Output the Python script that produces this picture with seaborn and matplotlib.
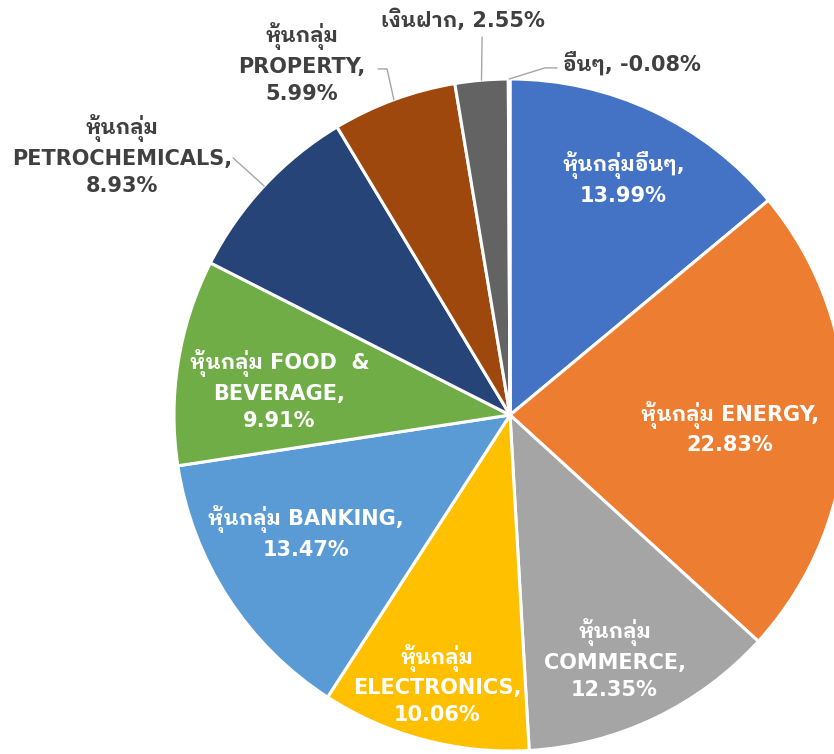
import numpy as np
import matplotlib
matplotlib.use("Agg")
import matplotlib.pyplot as plt
import seaborn as sns

# Portfolio allocation by asset group (percent of NAV)
categories = [
    "หุ้นกลุ่มอื่นๆ",
    "หุ้นกลุ่ม ENERGY",
    "หุ้นกลุ่ม\nCOMMERCE",
    "หุ้นกลุ่ม\nELECTRONICS",
    "หุ้นกลุ่ม BANKING",
    "หุ้นกลุ่ม FOOD  &\nBEVERAGE",
    "หุ้นกลุ่ม\nPETROCHEMICALS",
    "หุ้นกลุ่ม\nPROPERTY",
    "เงินฝาก",
    "อื่นๆ",
]
weights = [13.99, 22.83, 12.35, 10.06, 13.47, 9.91, 8.93, 5.99, 2.55, -0.08]
value_sep = ["\n", "\n", "\n", "\n", "\n", "\n", "\n", "\n", " ", " "]
colors = ["#4472C4", "#ED7D31", "#A5A5A5", "#FFC000", "#5B9BD5",
          "#70AD47", "#264478", "#9E480E", "#636363", "#997300"]

# label layout: (clockwise angle from 12 o'clock, radius) and text colour
label_pos = [(25.7, 0.78), (93.4, 0.655), (156.8, 0.79), (195.1, 0.83),
             (240.0, 0.70), (276.2, 0.69), (303.8, 1.39), (329.4, 1.217),
             (353.2, 1.184), (19.1, 1.109)]
inside = [True] * 6 + [False] * 4
# leader-line bends for the outside labels (x, y in radius units)
leaders = {
    6: [(-0.824, 0.765)],
    7: [(-0.366, 1.030), (-0.393, 1.030)],
    8: [(-0.083, 1.125)],
    9: [(0.104, 1.033), (0.140, 1.033)],
}

sns.set_theme(style="white")
plt.rcParams["font.family"] = ["DejaVu Sans", "IBM Plex Sans Thai Looped"]

W, H = 834, 754
cx, cy, R = 510, 415, 336
fig = plt.figure(figsize=(W / 100, H / 100), dpi=100)
fig.patch.set_facecolor("white")
ax = fig.add_axes([(cx - R) / W, (H - cy - R) / H, 2 * R / W, 2 * R / H])

sizes = np.abs(weights)
wedges, _ = ax.pie(sizes, colors=colors, startangle=90, counterclock=False,
                   radius=1.0, wedgeprops=dict(edgecolor="white", linewidth=2.2))
ax.set_xlim(-1, 1)
ax.set_ylim(-1, 1)
ax.set_aspect("auto")
ax.axis("off")

for i, (name, w) in enumerate(zip(categories, weights)):
    phi, r = label_pos[i]
    x, y = r * np.sin(np.radians(phi)), r * np.cos(np.radians(phi))
    txt = f"{name},{value_sep[i]}{w:.2f}%"
    ax.text(x, y, txt, ha="center", va="center", fontsize=15,
            fontweight="bold", linespacing=1.42,
            color="white" if inside[i] else "#404040", clip_on=False)
    if i in leaders:
        wd = wedges[i]
        mid = np.radians((wd.theta1 + wd.theta2) / 2)
        pts = [(np.cos(mid), np.sin(mid))] + leaders[i]
        xs, ys = zip(*pts)
        ax.plot(xs, ys, color="#A6A6A6", lw=1.0, clip_on=False)

fig.savefig("out.png", dpi=100)
